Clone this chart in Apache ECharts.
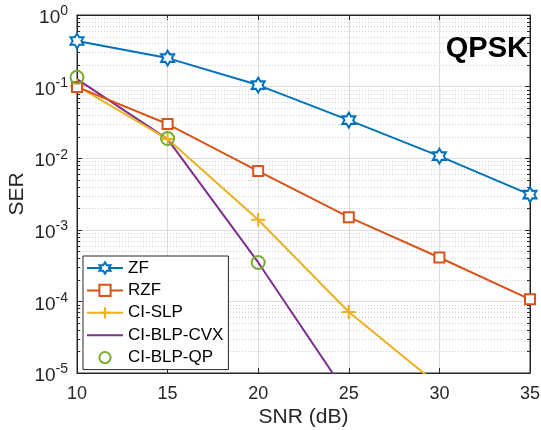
<!DOCTYPE html>
<html>
<head>
<meta charset="utf-8">
<script src="https://cdn.jsdelivr.net/npm/echarts@6/dist/echarts.min.js"></script>
<style>html,body{margin:0;padding:0;background:#fff}#c{width:541px;height:430px}</style>
</head>
<body>
<div id="c"></div>
<script>
var snr = [10, 15, 20, 25, 30, 35];
var zf = [0.433, 0.25, 0.105, 0.034, 0.0107, 0.0031];
var rzf = [0.099, 0.030, 0.0066, 0.0015, 0.00041, 0.000107];
var ciSlp = [0.102, 0.0185, 0.00138, 0.000071, 0.0000066];
var ciBlpCvx = [0.127, 0.0185, 0.00035, 0.0000046];
var ciBlpQp = [0.135, 0.0188, 0.00035];
var seriesNames = ['ZF', 'RZF', 'CI-SLP', 'CI-BLP-CVX', 'CI-BLP-QP'];
var xTicks = [10, 15, 20, 25, 30, 35];
var yMinorGrid = [];
[-5, -4, -3, -2, -1].forEach(function (e) {
  for (var m = 2; m <= 9; m++) yMinorGrid.push(m * Math.pow(10, e));
});

function pairs(vals) { return vals.map(function (v, i) { return [snr[i], v]; }); }

var hexagram = 'path://M10,0 L12.89,5 L18.66,5 L15.77,10 L18.66,15 L12.89,15 L10,20 L7.11,15 L1.34,15 L4.23,10 L1.34,5 L7.11,5 Z';
var plus = 'path://M5,0 L5,10 M0,5 L10,5';
var lineIcon = 'path://M0,0 L36,0 L36,2 L0,2 Z';
var FONT = '"Liberation Sans", Arial, sans-serif';
var AX = '#262626';

var chart = echarts.init(document.getElementById('c'), null, {renderer: 'canvas'});
chart.setOption({
  animation: false,
  backgroundColor: '#fff',
  textStyle: {fontFamily: FONT},
  title: {
    text: 'QPSK', right: 8, top: 29,
    textStyle: {fontFamily: FONT, fontWeight: 'bold', fontSize: 29, color: '#000'}
  },
  grid: {left: 77, right: 11, top: 15, bottom: 57, show: true, borderColor: AX, borderWidth: 1,
    backgroundColor: 'transparent', containLabel: false, outerBoundsMode: 'none'},
  legend: {
    data: [
      {name: 'ZF'}, {name: 'RZF'}, {name: 'CI-SLP'},
      {name: 'CI-BLP-CVX', icon: lineIcon}, {name: 'CI-BLP-QP'}
    ],
    orient: 'vertical', left: 83, top: 256,
    backgroundColor: '#fff', borderColor: AX, borderWidth: 1, borderRadius: 0,
    padding: [3, 5, 3, 3], itemGap: 4.4, itemWidth: 36, itemHeight: 14,
    textStyle: {fontFamily: FONT, fontSize: 17, lineHeight: 18, color: '#000'}
  },
  xAxis: [{
    type: 'value', min: 10, max: 35, interval: 5,
    name: 'SNR (dB)', nameLocation: 'middle', nameGap: 34, nameMoveOverlap: false,
    nameTextStyle: {fontFamily: FONT, fontSize: 21, color: AX},
    axisLine: {show: true, lineStyle: {color: AX, width: 1}},
    axisTick: {show: true, inside: true, length: 5, lineStyle: {color: AX}},
    axisLabel: {fontFamily: FONT, fontSize: 18, color: AX, margin: 12},
    splitLine: {show: true, lineStyle: {color: '#dcdcdc', width: 1}}
  }, {
    type: 'value', min: 10, max: 35, interval: 5, position: 'top',
    axisLine: {show: true, lineStyle: {color: AX}},
    axisTick: {show: true, inside: true, length: 5, lineStyle: {color: AX}},
    axisLabel: {show: false}, splitLine: {show: false}
  }],
  yAxis: [{
    type: 'log', logBase: 10, min: 1e-5, max: 1,
    name: 'SER', nameLocation: 'middle', nameGap: 49, nameMoveOverlap: false,
    nameTextStyle: {fontFamily: FONT, fontSize: 21, color: AX},
    axisLine: {show: true, lineStyle: {color: AX, width: 1}},
    axisTick: {show: true, inside: true, length: 5, lineStyle: {color: AX}},
    axisLabel: {
      fontFamily: FONT, fontSize: 19, color: AX, margin: 9, padding: [6, 0, 0, 0],
      formatter: function (v) { return '10{s|' + Math.round(Math.log10(v)) + '}'; },
      rich: {s: {fontFamily: FONT, fontSize: 14, color: AX, padding: [0, 0, 13, 0]}}
    },
    splitLine: {show: true, lineStyle: {color: '#dcdcdc', width: 1}}
  }, {
    type: 'log', logBase: 10, min: 1e-5, max: 1, position: 'right',
    axisLine: {show: true, lineStyle: {color: AX}},
    axisTick: {show: true, inside: true, length: 5, lineStyle: {color: AX}},
    axisLabel: {show: false}, splitLine: {show: false}
  }],
  series: [
    {
      name: 'minor', type: 'custom', silent: true, z: 1,
      data: yMinorGrid.map(function (v) { return [xTicks[0], v]; }),
      renderItem: function (params, api) {
        var cs = params.coordSys;
        var y = Math.round(api.coord([api.value(0), api.value(1)])[1]) + 0.5;
        var x0 = cs.x, x1 = cs.x + cs.width;
        return {type: 'group', children: [
          {type: 'line', shape: {x1: x0, y1: y, x2: x1, y2: y}, style: {stroke: '#cfcfcf', lineWidth: 1, lineDash: [1, 2]}},
          {type: 'line', shape: {x1: x0, y1: y, x2: x0 + 3, y2: y}, style: {stroke: AX, lineWidth: 1}},
          {type: 'line', shape: {x1: x1 - 3, y1: y, x2: x1, y2: y}, style: {stroke: AX, lineWidth: 1}}
        ]};
      }
    },
    {
      name: 'ZF', type: 'line', data: pairs(zf), z: 6,
      symbol: hexagram, symbolSize: [13, 15],
      lineStyle: {color: '#0072BD', width: 2},
      itemStyle: {color: '#fff', borderColor: '#0072BD', borderWidth: 2}
    },
    {
      name: 'RZF', type: 'line', data: pairs(rzf), z: 5,
      symbol: 'rect', symbolSize: 10,
      lineStyle: {color: '#D95319', width: 2},
      itemStyle: {color: '#fff', borderColor: '#D95319', borderWidth: 2}
    },
    {
      name: 'CI-SLP', type: 'line', data: pairs(ciSlp), z: 4,
      symbol: plus, symbolSize: 14,
      lineStyle: {color: '#EDB120', width: 2},
      itemStyle: {color: '#EDB120', borderColor: '#EDB120', borderWidth: 2}
    },
    {
      name: 'CI-BLP-CVX', type: 'line', data: pairs(ciBlpCvx), z: 3,
      symbol: 'none', showSymbol: false,
      lineStyle: {color: '#7E2F8E', width: 2},
      itemStyle: {color: '#7E2F8E'}
    },
    {
      name: 'CI-BLP-QP', type: 'line', data: pairs(ciBlpQp), z: 7,
      symbol: 'circle', symbolSize: 13,
      lineStyle: {width: 0, opacity: 0},
      itemStyle: {color: 'rgba(255,255,255,0)', borderColor: '#77AC30', borderWidth: 2}
    }
  ]
});
</script>
</body>
</html>
